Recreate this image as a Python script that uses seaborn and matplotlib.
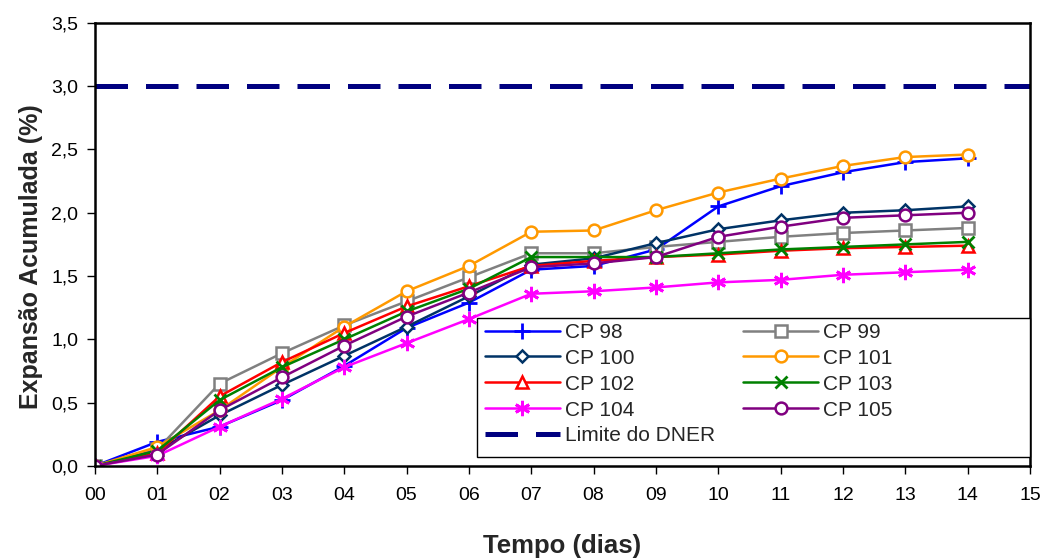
import matplotlib
matplotlib.use("Agg")
import matplotlib.pyplot as plt
from matplotlib.patches import Rectangle
import seaborn as sns
import pandas as pd

# Accumulated expansion (%) per specimen over 14 days
days = list(range(0, 15))
cp98 = [0.00, 0.19, 0.31, 0.52, 0.79, 1.09, 1.29, 1.55, 1.58, 1.71, 2.05, 2.21, 2.32, 2.40, 2.43]
cp99 = [0.00, 0.13, 0.65, 0.89, 1.11, 1.30, 1.49, 1.68, 1.68, 1.73, 1.77, 1.81, 1.84, 1.86, 1.88]
cp100 = [0.00, 0.12, 0.40, 0.64, 0.87, 1.10, 1.34, 1.59, 1.64, 1.76, 1.87, 1.94, 2.00, 2.02, 2.05]
cp101 = [0.00, 0.15, 0.44, 0.78, 1.10, 1.38, 1.58, 1.85, 1.86, 2.02, 2.16, 2.27, 2.37, 2.44, 2.46]
cp102 = [0.00, 0.10, 0.55, 0.82, 1.05, 1.26, 1.42, 1.58, 1.62, 1.65, 1.67, 1.70, 1.72, 1.73, 1.74]
cp103 = [0.00, 0.12, 0.52, 0.78, 1.00, 1.22, 1.40, 1.65, 1.65, 1.65, 1.68, 1.71, 1.73, 1.75, 1.77]
cp104 = [0.00, 0.08, 0.31, 0.53, 0.78, 0.97, 1.16, 1.36, 1.38, 1.41, 1.45, 1.47, 1.51, 1.53, 1.55]
cp105 = [0.00, 0.09, 0.44, 0.70, 0.95, 1.18, 1.37, 1.57, 1.60, 1.65, 1.81, 1.89, 1.96, 1.98, 2.00]
dner_limit = 3.0

series_names = ["CP 98", "CP 99", "CP 100", "CP 101", "CP 102", "CP 103", "CP 104", "CP 105"]
series_values = [cp98, cp99, cp100, cp101, cp102, cp103, cp104, cp105]
x_tick_labels = [f"{d:02d}" for d in range(0, 16)]
y_ticks = [0.0, 0.5, 1.0, 1.5, 2.0, 2.5, 3.0, 3.5]

styles = {
    "CP 98": dict(color="#0000FF", marker="+", ms=11, mew=2.0, fill=False),
    "CP 99": dict(color="#808080", marker="s", ms=8, mew=1.8, fill=True),
    "CP 100": dict(color="#003366", marker="D", ms=6.5, mew=1.8, fill=True),
    "CP 101": dict(color="#FF9900", marker="o", ms=8.5, mew=1.8, fill=True),
    "CP 102": dict(color="#FF0000", marker="^", ms=8.5, mew=1.8, fill=True),
    "CP 103": dict(color="#008000", marker="x", ms=8, mew=2.0, fill=False),
    "CP 104": dict(color="#FF00FF", marker=(6, 2, 0), ms=11, mew=2.0, fill=False),
    "CP 105": dict(color="#800080", marker="o", ms=8.5, mew=1.8, fill=True),
}

sns.set_theme(style="white")
plt.rcParams["font.family"] = ["Liberation Sans", "DejaVu Sans"]

fig = plt.figure(figsize=(10.43, 5.58), dpi=100)
ax = fig.add_axes([0.091, 0.165, 0.8965, 0.794])

handles = {}
for name, vals in zip(series_names, series_values):
    st = styles[name]
    df = pd.DataFrame({"dia": days, "exp": vals})
    sns.lineplot(data=df, x="dia", y="exp", ax=ax, color=st["color"], lw=1.8,
                 marker=st["marker"], markersize=st["ms"],
                 markerfacecolor="white" if st["fill"] else st["color"],
                 markeredgecolor=st["color"], markeredgewidth=st["mew"],
                 label=name, legend=False)
    handles[name] = ax.get_lines()[-1]

limit_line = ax.axhline(dner_limit, color="#000080", lw=3.6, dashes=(6.5, 3.6),
                        label="Limite do DNER")
handles["Limite do DNER"] = limit_line

ax.set_xlim(0, 15)
ax.set_ylim(0, 3.5)
ax.set_xticks(range(0, 16))
ax.set_xticklabels(x_tick_labels)
ax.set_yticks(y_ticks)
ax.set_yticklabels([f"{v:.1f}".replace(".", ",") for v in y_ticks])
ax.tick_params(axis="both", labelsize=14, colors="black", direction="out",
               length=6, width=1, bottom=True, left=True)
ax.tick_params(axis="x", pad=9)
ax.tick_params(axis="y", pad=6)
for sp in ax.spines.values():
    sp.set_color("black")
    sp.set_linewidth(1.8)
    sp.set_visible(True)

ax.set_xlabel("Tempo (dias)", fontsize=18.5, fontweight="bold", labelpad=22)
ax.set_ylabel("Expansão Acumulada (%)", fontsize=18, fontweight="bold")
ax.yaxis.set_label_coords(-0.0556, 0.472)

# Legend box spanning to the right edge of the plot area
ax.add_patch(Rectangle((0.4086, 0.0203), 0.5914, 0.3138, transform=ax.transAxes,
                       facecolor="white", edgecolor="black", lw=1.0, zorder=4.5,
                       clip_on=False))

order = ["CP 98", "CP 100", "CP 102", "CP 104", "Limite do DNER",
         "CP 99", "CP 101", "CP 103", "CP 105"]
leg = ax.legend([handles[k] for k in order], order, ncol=2, loc="upper left",
                bbox_to_anchor=(0.4171, 0.3228), fontsize=15, frameon=False,
                borderpad=0, labelspacing=0.33, handlelength=3.6,
                handletextpad=0.24, borderaxespad=0, columnspacing=1.35)
leg.set_zorder(5)

fig.savefig("out.png", dpi=100)
